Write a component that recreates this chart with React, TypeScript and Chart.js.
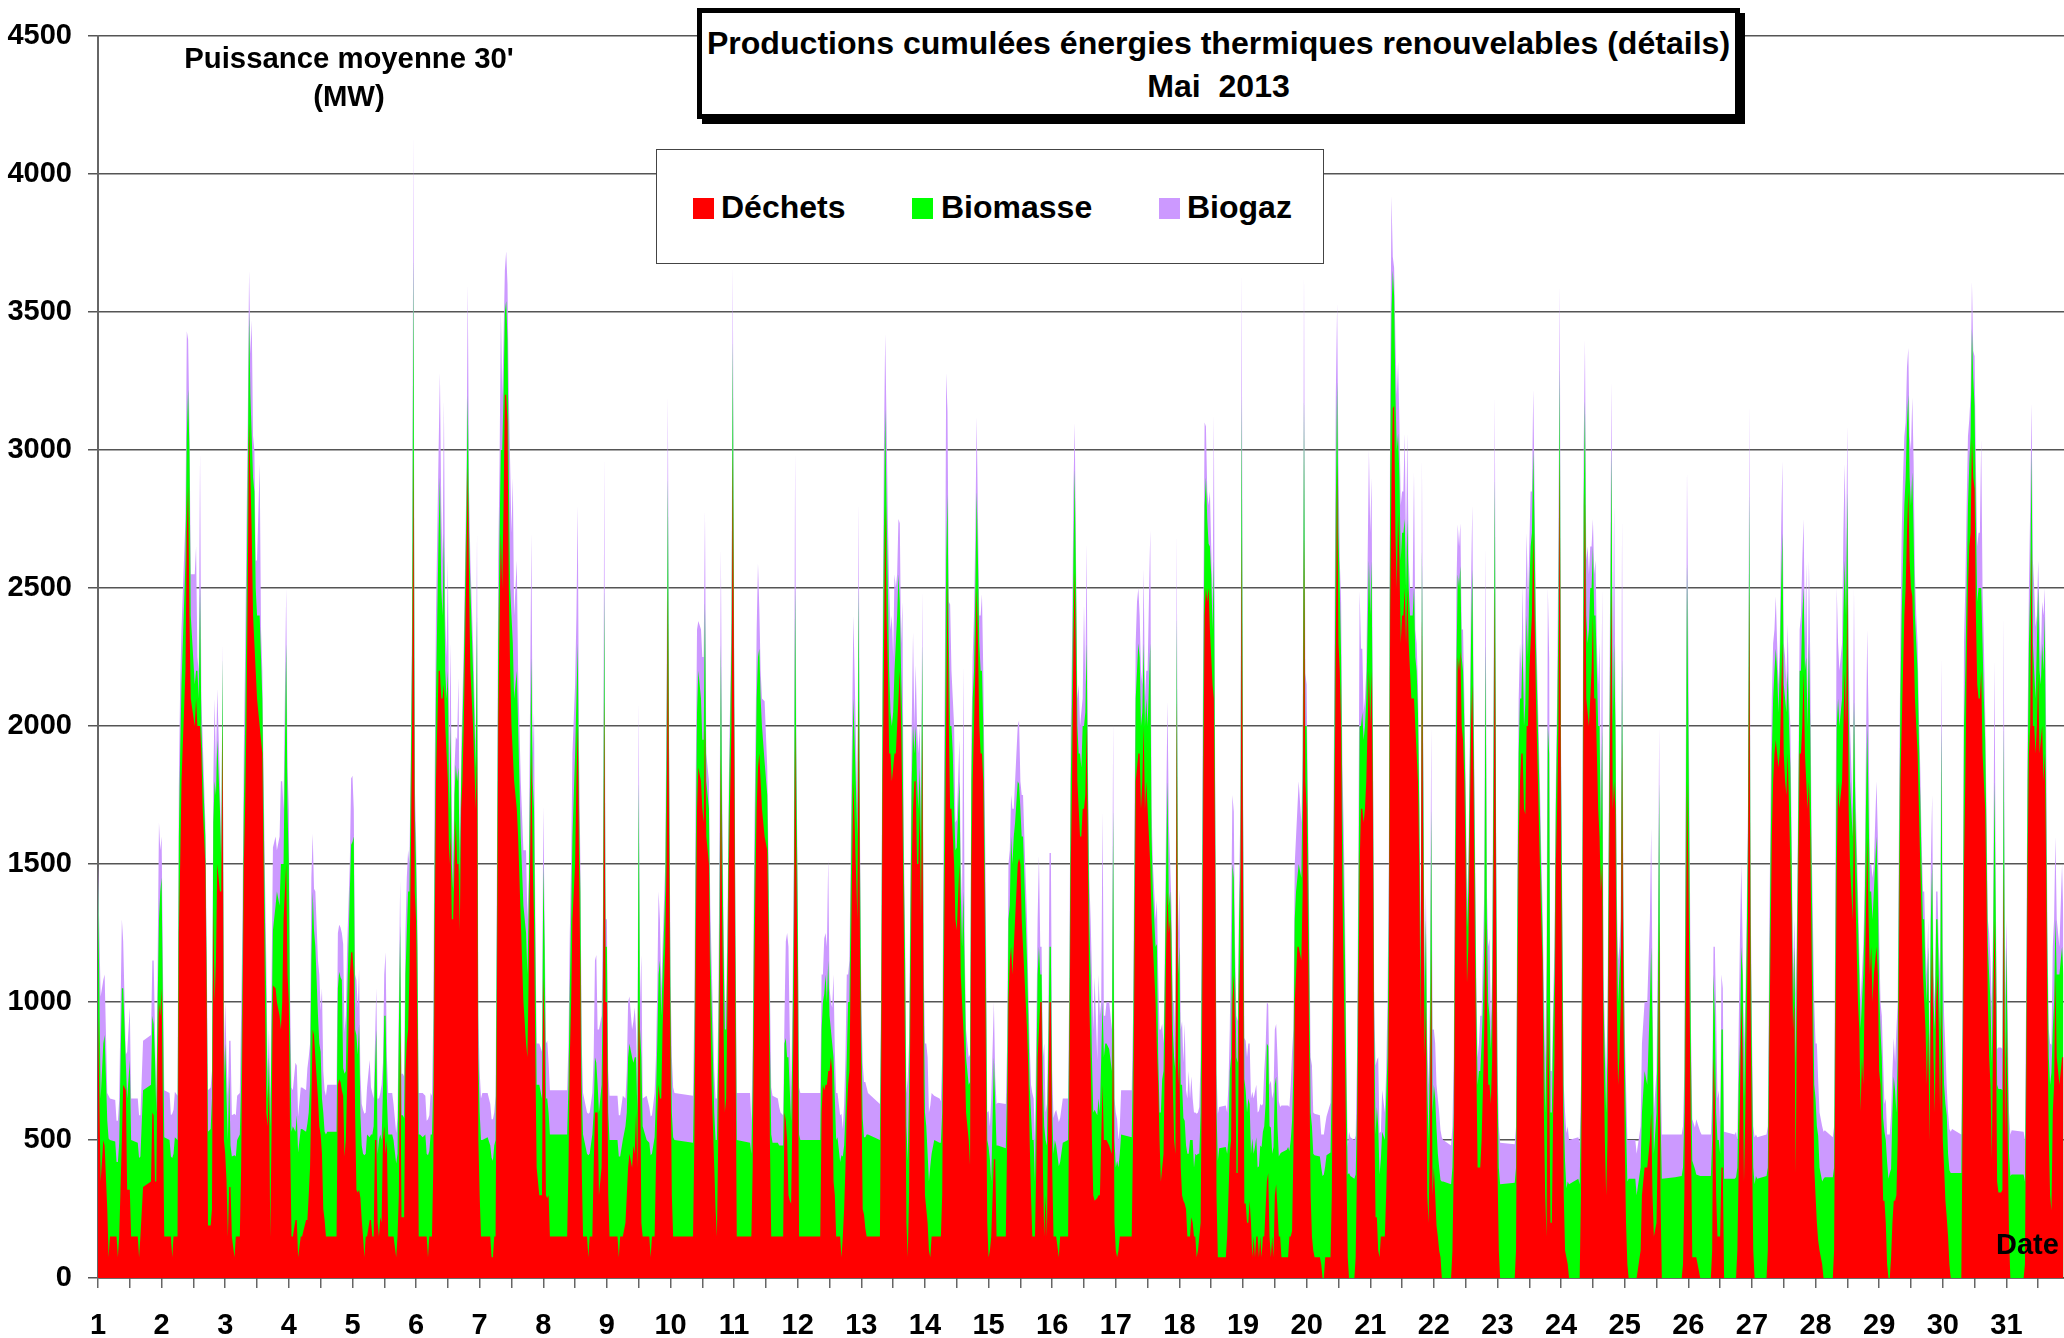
import React, { useEffect, useRef } from "react";
import { Chart, registerables } from "chart.js";

Chart.register(...registerables);

const titleLines = ["Productions cumulées énergies thermiques renouvelables (détails)", "Mai  2013"];
const unitLines = ["Puissance moyenne 30'", "(MW)"];
const seriesNames = ["Déchets", "Biomasse", "Biogaz"];
const seriesColors = ["#FF0000", "#00FF00", "#CC99FF"];
const dayLabels = Array.from({ length: 31 }, (_, i) => String(i + 1));
const yTicks = [0, 500, 1000, 1500, 2000, 2500, 3000, 3500, 4000, 4500];

// half-hour slot of each reading, one line per day of the month
const slots = [
[0,2,4,5,7,8,9,13,14,15,16,18,19,21,22,24,25,30,31,32,34,40,41,42,43,44,45,46,47],
[0,2,6,7,8,9,10,12,13,14,15,18,19,20,21,22,25,26,27,28,29,30,31,33,34,35,37,38,39,40,41,42,44,45,46,47],
[0,1,2,3,4,5,7,8,9,11,12,13,14,15,16,17,18,19,20,21,22,23,24,26,27,28,29,30,31,32,33,34,35,36,38,39,41,42,43,44,46,47],
[0,1,2,3,5,6,7,9,10,13,14,15,16,17,18,19,20,22,23,24,25,26,27,28,29,36,37,38,39,40,41,42,43,44,46,47],
[0,1,2,3,4,5,6,7,8,9,10,11,13,14,15,16,17,18,19,20,21,22,23,24,25,26,27,30,31,33,34,35,36,37,38,39,40,41,42,43,44,45,46,47],
[0,1,2,3,5,7,8,9,10,11,12,13,14,15,16,17,18,19,20,21,22,23,24,25,26,27,28,29,30,31,32,33,34,35,36,38,39,40,41,43,45,46,47],
[0,1,2,6,8,9,10,11,12,13,14,15,16,17,18,19,20,21,22,23,24,25,26,28,29,31,33,35,36,37,39,40,41,42,43,45,47],
[0,1,2,3,4,5,10,18,19,20,21,22,24,25,26,27,28,29,30,33,34,35,37,38,39,40,41,42,44,45,46,47],
[0,1,2,8,9,10,12,14,15,16,17,19,20,21,22,23,24,25,26,27,30,32,33,34,36,37,38,39,40,41,42,44,45,46,47],
[0,1,2,3,17,18,19,20,21,23,24,25,26,27,29,30,31,33,34,35,36,37,38,39,40,41,42,43,44,46,47],
[0,1,2,12,13,14,15,16,17,18,19,20,21,23,25,26,27,28,29,33,34,35,37,38,39,40,41,42,43,44,45,46,47],
[0,1,2,17,18,19,20,21,22,23,24,25,26,27,28,29,30,32,33,34,35,36,37,38,39,41,42,45,46,47],
[0,1,2,3,4,5,14,15,16,17,18,19,20,21,22,23,24,25,26,27,28,29,30,31,32,33,34,35,36,37,38,39,40,41,42,43,44,45,46,47],
[0,1,2,3,4,5,7,11,12,13,14,15,16,17,18,19,20,21,22,23,24,26,27,28,29,30,31,33,34,35,36,37,38,39,40,41,42,43,44,45,46,47],
[0,1,2,4,5,6,7,13,14,15,16,17,18,19,20,22,23,24,25,26,28,29,30,31,32,33,34,35,36,37,38,39,40,41,42,43,44,45,46,47],
[0,1,2,3,5,6,8,12,13,14,15,16,17,18,19,20,21,22,23,24,25,26,27,28,29,30,31,32,34,35,36,37,38,39,40,41,43,45,46,47],
[0,1,2,3,4,12,13,14,15,16,17,18,19,20,21,22,23,24,26,27,28,30,31,32,33,34,35,36,37,38,39,40,41,42,43,44,45,46,47],
[0,1,2,3,4,5,6,7,8,9,10,11,12,13,14,15,16,17,18,19,20,21,22,23,24,25,26,27,28,29,30,35,36,37,38,39,40,41,42,43,44,45,46,47],
[0,1,2,3,4,5,6,7,8,9,10,11,12,13,14,15,16,17,18,19,20,21,22,23,24,25,26,27,28,29,33,34,35,36,37,38,39,40,41,42,44,45,46,47],
[0,1,2,3,4,5,6,10,11,12,13,14,15,18,19,20,21,22,23,24,25,26,27,28,29,30,31,32,33,36,37,38,39,40,41,42,43,44,45,47],
[0,1,2,3,4,5,6,7,8,9,11,12,13,14,15,16,17,18,19,20,21,22,23,24,25,26,27,28,29,30,31,32,33,34,35,36,37,38,39,40,41,42,43,44,45,46,47],
[0,1,2,3,4,5,6,7,13,14,15,16,17,18,19,20,21,22,23,24,25,26,27,28,29,30,31,32,33,34,35,36,37,38,39,40,41,42,43,44,45,46,47],
[0,1,2,13,14,15,16,17,18,19,20,21,22,23,24,25,26,27,28,29,30,31,32,33,34,35,36,37,38,39,40,41,42,43,44,45,46,47],
[0,1,2,3,4,5,6,13,14,15,16,17,18,19,20,21,22,23,24,25,26,27,28,29,30,31,32,33,34,35,36,37,38,39,40,41,42,43,44,45,46,47],
[0,1,2,3,8,9,12,13,15,17,19,20,21,22,24,25,26,27,28,38,43,44,45,46,47],
[0,1,2,3,5,6,9,10,17,18,19,20,21,22,23,24,25,26,27,35,36,37,38,39,40,41,42,43,44,45,46,47],
[0,1,2,3,4,11,12,13,14,15,16,17,18,19,20,21,22,23,24,25,26,27,28,29,30,31,32,33,34,35,36,37,38,39,40,41,42,43,44,45,46,47],
[0,1,2,3,5,6,7,13,14,15,16,17,18,20,21,22,23,24,25,26,27,28,29,30,32,33,34,35,36,37,38,39,40,41,42,43,44,46,47],
[0,1,2,3,4,5,6,7,8,9,10,11,12,13,14,15,16,17,18,19,20,21,22,23,24,25,26,27,28,29,30,31,32,33,34,35,36,37,38,39,40,41,42,43,44,45,46,47],
[0,1,2,3,4,5,6,7,14,15,16,17,18,19,20,21,22,23,24,25,26,27,28,29,30,31,32,33,34,35,36,37,38,39,40,41,42,44,45,46,47],
[0,1,2,3,4,13,14,15,16,17,18,19,20,21,22,23,24,25,26,27,28,29,30,31,32,33,34,35,36,37,38,40,42,43],
];

const dechets = [
[950,350,500,480,250,75,150,150,150,75,150,500,700,680,320,320,150,150,75,150,330,350,600,590,350,350,800,1000,950],
[1050,150,150,150,75,150,150,150,1250,1500,1800,2200,2700,2870,2400,2100,2000,2100,2000,2000,2000,1900,1700,1500,1000,190,190,250,1350,1000,1150,1500,1400,1400,2000,500],
[450,350,150,330,330,150,75,150,150,150,400,900,1500,1700,2000,2500,3100,2900,2700,2400,2300,2200,2100,2000,1950,1900,1500,1000,600,550,700,150,550,1060,1050,1000,950,900,1000,1300,1500,1100],
[1000,500,150,150,210,210,75,150,150,210,210,300,400,650,900,880,800,650,550,520,450,250,210,150,150,150,700,720,710,680,660,440,500,700,1100,1180],
[1180,1100,600,320,310,320,290,210,150,75,150,150,210,210,150,150,500,500,200,150,220,200,500,550,450,500,150,150,150,75,150,300,900,220,220,220,750,850,900,1100,1500,2000,3000,1400],
[1300,900,150,150,150,150,150,75,150,150,150,400,1200,1800,2000,2200,2200,2100,2100,2150,2000,1900,1800,1500,1600,1300,1300,1500,1660,1500,1500,1260,1700,1800,2000,2600,2940,2500,2200,2000,1700,1900,500],
[300,150,150,150,150,75,75,150,150,1000,2000,2400,2700,2500,2800,3200,3200,3100,2500,2200,2000,1900,1800,1700,1600,1300,1000,850,800,1100,1900,1500,1300,800,400,300,300],
[1090,900,300,290,300,150,150,150,400,800,1000,1300,1500,1800,2000,1500,1100,400,150,150,75,150,150,400,600,600,600,300,400,800,2100,1000],
[1000,300,150,150,75,150,150,200,300,400,450,400,480,450,600,400,1000,800,200,150,150,150,75,150,150,400,600,700,650,650,900,1200,1500,2500,1500],
[800,300,150,150,150,500,1200,1700,1850,1800,1700,1650,2000,1600,1500,1000,700,400,250,150,500,1000,1900,1300,900,600,650,1000,1500,2000,3000],
[2000,900,150,150,150,400,1000,1400,1700,1850,1900,1800,1700,1600,1550,1200,500,150,150,150,150,150,150,600,570,500,300,280,270,600,1000,2000,1500],
[1000,150,150,150,600,700,680,700,700,750,750,800,750,350,300,150,150,150,75,150,250,400,600,700,750,1500,1800,1300,2100,1200],
[700,250,230,180,150,150,150,800,1800,2200,2800,2400,2200,1900,1900,1800,1850,1900,1900,2000,2100,2200,2000,1700,1300,800,200,75,300,1000,1500,1700,1800,1800,1500,1500,1700,1300,2000,700],
[300,250,200,100,75,150,150,150,150,300,1000,1500,2000,2540,2000,1700,1700,1600,1500,1300,1260,1500,1100,1000,900,800,600,500,410,1500,1800,2000,2200,2500,2300,2000,1900,1900,1800,1400,800,200],
[75,100,150,430,430,150,150,150,500,1000,1150,1200,1100,1200,1300,1500,1520,1500,1300,1200,1000,900,750,500,300,150,150,150,400,800,900,1000,1000,400,150,300,150,600,1000,1000],
[400,150,150,150,75,150,150,150,800,1500,1800,2300,2560,2200,1800,1700,1600,1600,1700,1700,1750,2000,1500,1000,800,500,300,280,290,300,300,500,700,500,500,500,480,450,1000,200],
[100,75,100,150,150,150,500,1100,1800,1850,1900,1900,1700,1800,2000,1700,1800,1700,1500,1300,1200,1000,830,700,500,350,400,450,800,1200,1400,1250,1300,1050,700,500,450,2100,700],
[800,400,300,280,270,250,150,150,150,220,200,150,150,75,100,150,200,800,1800,2400,2500,2450,2500,2350,2250,2150,2100,1500,300,75,75,75,150,300,450,500,1000,1100,900,380,380,1000,1200,2700],
[1400,270,270,200,200,280,200,75,150,75,150,150,75,150,75,150,150,250,350,380,150,75,150,75,300,340,250,150,150,75,75,75,150,150,170,450,1000,1100,1200,1200,1150,1400,2700,1800],
[1700,1300,800,300,150,100,75,75,50,0,0,75,75,75,300,1000,1700,2300,2950,2300,2200,2000,1400,1075,800,400,75,0,0,0,75,400,1000,1500,1700,1700,1650,1700,1800,2200],
[2000,2200,1700,600,220,220,100,75,150,150,150,300,500,1000,2400,2900,3150,3160,2700,2500,2770,2600,2300,2400,2400,2500,2300,2500,2300,2200,2100,2100,2100,2000,1900,1800,1500,900,2390,1500,800,1000,300,200,500,1200,300],
[400,300,190,150,100,75,0,0,0,100,400,1200,1800,2250,2200,2270,2000,1950,1800,1500,1070,1200,1600,2000,2150,1800,1200,800,400,400,400,500,680,900,1300,1000,700,700,630,800,1500,2500,1200],
[400,100,0,0,100,1000,1600,1800,1900,1900,1700,1680,2000,2000,2200,2300,2400,2700,2400,2100,1900,1700,1500,1300,1150,600,300,150,1000,700,200,200,600,800,1500,1700,2000,2980],
[1500,900,300,100,75,50,0,0,0,300,1000,2300,2850,2100,2050,2000,2100,2200,2400,2100,2100,1900,1700,1600,1400,1500,800,500,300,500,1300,2000,2500,1700,1800,1700,1000,700,800,1000,1950,1000],
[500,200,50,0,0,0,100,300,400,400,500,600,300,150,200,500,1300,300,0,0,0,50,300,1000,1800],
[1500,1000,500,75,75,75,0,0,0,100,800,650,300,150,150,150,400,400,0,0,0,100,400,650,1000,800,350,600,900,1300,2500,1000],
[500,100,0,0,0,0,100,800,1200,1600,1800,1900,1950,1900,1850,1900,2100,2300,1900,1800,1750,1900,1700,1500,1300,900,1000,380,1000,1500,1900,1900,2000,2200,1900,1800,1700,1800,1600,1200,800,400],
[300,200,135,100,50,0,0,0,100,900,1500,1800,1700,1800,2000,2200,2000,2500,1700,1500,1400,1300,1700,1400,1000,900,605,800,700,1000,1300,1600,1300,1100,1200,1000,1100,1200,1100],
[750,700,500,280,280,200,50,0,0,75,200,280,280,300,500,1200,1800,2000,2200,2400,2500,2700,2850,2600,2500,2470,2300,2100,2000,1900,1700,1500,1300,1100,1000,900,700,900,500,1000,1200,800,600,1000,1100,900,600,1000],
[500,400,280,220,150,50,0,0,0,600,1500,1800,2200,2500,2650,2700,3040,2900,2860,2400,2150,2100,2100,2200,1900,1800,1700,1400,1000,800,700,430,900,1300,1000,350,310,310,320,1500,500],
[900,500,150,0,0,0,50,700,1500,1900,2000,2650,2000,2000,1900,2000,2180,1900,1950,2000,1800,1900,1500,900,500,300,245,600,700,1100,800,700,800,800],
];

const biomasse = [
[500,300,350,400,320,430,350,345,270,345,340,550,350,100,330,470,350,340,360,290,350,350,350,330,450,250,200,300,450],
[400,360,350,290,360,300,360,350,350,400,350,400,350,350,600,300,150,100,200,100,500,100,150,100,100,340,350,400,300,800,600,450,300,100,250,200],
[400,300,350,400,150,290,370,290,350,370,300,200,200,300,400,400,400,300,350,500,550,300,300,400,300,200,200,300,400,100,100,400,350,200,300,400,400,600,500,200,800,600],
[500,350,380,400,320,380,380,390,390,320,350,300,300,500,500,380,400,300,300,300,200,350,320,370,380,380,350,390,380,400,100,300,250,300,300,390],
[400,500,300,560,500,600,300,270,300,370,300,370,300,310,370,400,250,400,250,350,300,300,180,400,500,150,370,370,350,340,300,600,380,370,370,360,350,400,500,300,300,300,700,300],
[200,300,370,370,360,370,300,370,310,370,370,300,300,300,400,500,700,400,300,550,200,200,400,200,400,200,100,250,200,300,350,200,100,200,200,200,260,200,300,200,150,500,300],
[300,350,350,360,330,360,350,330,350,300,300,300,300,500,400,300,340,300,400,300,400,400,300,500,400,300,350,400,300,250,350,300,400,400,300,400,350],
[410,300,350,360,300,370,370,370,300,250,300,300,400,300,300,200,300,300,370,300,370,300,370,200,200,180,100,300,300,300,400,200],
[200,300,350,350,365,290,350,350,300,400,400,400,300,350,200,200,800,100,600,400,350,340,370,300,360,250,250,400,500,300,200,200,400,400,300],
[200,300,360,350,340,300,300,350,350,300,250,300,450,200,200,200,300,200,250,350,300,300,400,300,300,300,250,200,200,300,400],
[200,300,350,340,300,300,300,300,400,400,380,300,300,270,200,200,350,370,340,340,330,330,330,250,300,300,500,400,300,250,300,500,300],
[300,370,350,350,300,300,350,400,300,400,200,100,100,450,350,350,360,270,370,290,230,200,200,300,250,300,300,300,400,300],
[200,330,280,330,370,370,350,200,300,500,350,400,300,300,150,200,200,300,400,400,450,250,200,300,200,350,350,350,390,300,300,300,100,200,300,200,150,300,300,350],
[300,300,250,250,330,300,350,340,340,300,300,400,600,300,300,300,300,300,200,250,300,300,300,200,500,300,200,200,300,300,300,200,300,350,300,300,300,300,200,200,300,300],
[400,330,200,370,200,330,330,320,200,300,200,400,400,400,350,300,270,200,300,400,300,250,200,200,300,350,350,200,300,300,300,100,100,300,400,200,330,200,200,200],
[200,300,350,330,330,270,340,350,200,300,300,300,370,300,200,200,300,250,300,300,300,300,250,300,300,300,300,330,300,350,300,300,300,300,350,350,350,300,700,300],
[300,350,300,300,370,360,300,300,300,350,400,350,300,250,300,300,300,300,800,300,200,200,380,100,100,250,320,300,300,300,400,100,100,200,200,300,300,300,400],
[400,300,400,300,300,230,300,300,350,280,300,250,300,370,350,300,400,400,300,400,400,300,160,300,300,200,500,200,300,350,395,400,300,200,300,300,500,350,200,420,400,300,300,500],
[300,450,410,400,450,350,250,430,300,400,360,250,330,330,400,380,400,380,500,460,400,470,300,400,400,390,300,290,300,380,390,400,310,350,400,300,300,300,250,300,300,400,500,200],
[300,300,300,300,400,350,370,365,350,370,375,330,370,380,400,300,300,500,300,400,300,250,300,350,350,300,300,380,370,360,300,200,300,500,300,350,300,300,300,400],
[400,400,200,300,300,400,450,300,280,380,350,350,300,300,500,600,500,400,500,500,290,300,300,300,300,250,200,250,200,200,300,300,400,250,300,250,200,200,250,300,200,300,400,300,300,500,300],
[300,350,350,300,300,280,350,350,340,300,200,300,400,300,300,310,250,250,200,200,200,200,200,300,420,200,300,200,300,350,350,350,300,300,1000,300,300,250,200,200,400,400,300],
[300,300,340,345,300,300,300,300,200,400,300,400,400,250,300,350,300,300,300,200,200,200,200,150,100,300,300,700,1000,1200,400,400,300,300,200,300,400,320],
[300,300,300,320,250,300,340,360,340,300,300,500,330,300,250,350,400,300,250,300,300,300,300,400,200,500,200,300,300,300,300,300,500,300,500,300,300,300,300,200,300,300],
[300,350,300,360,360,300,300,300,350,300,500,600,600,300,400,500,500,300,360,365,370,350,300,500,800],
[500,400,300,350,320,300,370,370,370,400,300,300,300,350,350,300,500,500,360,360,365,300,300,200,200,300,300,300,300,300,350,300],
[300,300,340,370,360,370,300,200,300,300,300,300,330,300,200,300,400,400,250,300,300,300,300,350,200,100,200,400,200,200,300,300,400,300,300,450,300,500,400,300,300,300],
[350,350,380,300,300,360,365,365,300,300,500,300,300,300,400,400,400,350,350,300,300,300,400,300,300,200,300,200,400,300,400,400,400,300,200,300,300,400,300],
[300,200,300,300,250,300,370,360,380,320,400,450,400,300,300,300,300,400,400,400,400,400,350,300,300,450,400,300,300,300,250,250,200,200,300,200,300,300,250,300,300,200,300,300,200,200,300,1000],
[400,300,350,370,300,340,380,380,380,300,500,400,300,300,300,350,400,360,300,350,300,400,400,300,400,300,250,200,200,300,300,350,300,500,300,350,375,375,360,500,300],
[300,300,300,370,375,375,300,200,300,400,500,350,300,200,200,300,320,300,200,300,400,500,200,250,300,400,500,300,300,200,300,400,400,300],
];

const biogaz = [
[50,370,230,220,100,155,150,150,150,150,155,250,170,30,170,190,150,160,155,150,180,180,200,230,100,50,150,350,150],
[150,170,170,150,160,160,165,160,180,250,200,150,380,180,100,150,400,450,50,100,490,100,100,50,100,150,150,100,150,300,100,185,100,50,50,80],
[150,150,160,130,380,150,150,150,160,150,250,200,200,250,300,200,150,150,420,150,150,100,200,550,100,100,100,150,150,100,100,100,200,300,250,150,250,300,300,200,200,150],
[200,150,160,130,250,180,130,150,150,150,200,200,150,300,210,150,200,200,250,150,400,150,150,140,170,170,200,170,180,170,450,150,200,200,100,240],
[240,100,200,200,170,200,150,150,160,150,150,170,280,170,150,100,100,150,200,150,150,200,100,150,230,150,150,150,130,110,130,100,160,150,150,150,150,200,150,100,100,100,450,100],
[100,100,150,150,160,140,120,130,130,150,140,250,300,300,300,300,380,300,200,480,200,150,400,200,300,200,100,100,100,150,325,100,100,100,100,100,400,150,100,100,100,300,150],
[150,150,170,160,150,140,150,120,160,200,300,250,500,200,200,150,180,200,300,450,300,600,300,400,200,200,200,300,200,100,450,100,350,100,150,150,170],
[210,100,200,210,180,160,160,160,150,200,200,300,250,300,500,200,100,150,150,150,150,150,150,200,350,390,200,300,250,200,480,100],
[100,150,160,160,150,150,160,100,150,200,170,100,150,180,100,100,290,100,370,100,160,130,140,140,160,150,200,300,150,100,100,100,200,300,100],
[100,200,180,170,170,200,300,300,180,250,300,300,330,100,100,150,150,150,150,150,150,300,345,150,100,100,100,100,100,100,270],
[100,100,170,180,120,150,200,200,250,340,145,100,100,220,100,100,200,170,170,160,140,120,110,100,350,450,400,200,100,150,200,495,100],
[100,170,170,170,200,100,200,150,200,370,100,100,130,300,170,170,160,170,150,100,150,200,300,100,150,200,300,100,310,100],
[100,200,200,200,170,150,130,100,200,300,270,300,250,300,300,400,200,350,200,150,200,285,100,450,100,100,120,300,170,150,200,340,100,220,200,200,150,100,190,100],
[250,300,350,250,220,220,160,160,150,200,300,300,680,300,150,440,200,200,300,100,100,150,100,150,820,100,100,100,100,150,150,200,200,270,150,100,200,277,200,200,200,100],
[130,120,300,200,100,150,155,160,150,200,200,150,200,100,150,200,230,100,150,150,150,150,100,150,100,170,150,150,200,200,330,100,100,100,300,100,150,100,340,340],
[150,130,100,130,160,160,160,150,150,200,200,250,170,100,100,250,100,200,100,440,100,360,100,150,200,300,300,480,200,450,350,200,690,150,100,150,170,150,320,150],
[200,150,100,100,160,170,150,200,200,250,200,150,200,100,270,100,100,200,410,100,100,100,160,300,300,300,200,100,100,200,290,300,100,100,100,200,100,300,150],
[210,200,230,200,350,200,200,300,150,230,150,200,150,150,150,170,200,300,300,300,185,100,140,200,100,100,530,100,150,170,150,150,150,200,150,500,250,240,100,150,150,100,200,450],
[100,150,180,200,200,220,200,170,200,200,190,200,200,150,150,100,200,200,150,150,150,170,200,200,200,190,250,200,170,170,160,150,160,200,250,150,200,200,250,300,200,100,450,190],
[150,100,200,200,220,150,150,150,120,150,145,150,140,180,250,200,300,400,280,250,100,200,150,200,150,100,100,150,140,140,140,200,200,490,280,230,100,100,100,400],
[300,300,100,100,250,170,250,150,100,150,100,100,200,200,300,420,50,100,200,200,260,200,200,150,150,310,150,310,100,100,100,100,420,100,100,100,100,100,330,100,100,100,150,200,200,300,300],
[200,200,160,200,200,180,160,150,140,150,200,200,300,180,150,155,100,150,100,100,100,100,100,200,230,100,100,100,100,100,200,100,200,200,350,100,200,280,100,100,200,300,100],
[100,150,150,140,150,200,200,200,100,210,100,300,300,200,150,200,150,220,150,100,100,100,100,100,100,150,200,300,500,350,150,150,100,100,100,100,300,300],
[100,100,100,180,200,200,160,150,150,100,200,200,220,200,350,200,150,150,100,150,200,100,150,300,100,500,100,100,150,150,150,200,250,200,500,100,100,150,100,100,500,100],
[100,150,150,140,140,150,150,250,250,300,300,430,150,150,150,200,200,200,160,155,150,150,150,300,330],
[290,200,100,150,150,200,160,150,150,150,100,250,350,150,180,100,200,150,170,160,165,100,200,400,300,100,200,100,100,100,320,100],
[100,150,170,150,150,150,150,200,200,200,200,150,190,100,100,100,200,260,150,150,100,170,100,150,100,100,100,250,100,100,150,200,200,250,100,340,100,300,250,100,200,300],
[200,300,200,200,200,170,170,145,150,300,500,200,200,200,300,350,200,240,200,200,150,100,400,100,100,100,100,100,100,100,200,350,320,100,100,150,100,200,200],
[200,100,150,200,100,150,100,160,140,200,150,140,100,300,200,200,200,300,300,250,200,200,170,150,200,270,260,150,100,100,100,100,100,100,100,100,100,100,100,200,250,100,100,100,100,100,200,250],
[300,250,200,100,150,150,150,160,140,200,300,300,300,250,160,150,170,100,180,200,200,200,200,540,200,200,100,100,100,150,150,200,100,440,100,130,150,150,150,400,200],
[100,150,150,150,160,155,150,200,200,200,300,170,300,300,260,100,100,200,100,150,200,100,300,100,100,150,100,300,300,300,200,100,300,200,200,100],
];

function buildPoints(values: number[][]) {
  const points: { x: number; y: number }[] = [];
  slots.forEach((daySlots, day) => {
    daySlots.forEach((slot, i) => {
      const row = values[day] || [];
      const v = row[i] !== undefined ? row[i] : row[row.length - 1] || 0;
      points.push({ x: day * 48 + slot, y: v });
    });
  });
  return points;
}

const boldFont = '"Liberation Sans", Arial, sans-serif';

export default function App() {
  const ref = useRef<HTMLCanvasElement>(null);
  useEffect(() => {
    if (!ref.current) return;
    const sets = [dechets, biomasse, biogaz].map((values, i) => ({
      label: seriesNames[i],
      data: buildPoints(values),
      backgroundColor: seriesColors[i],
      borderWidth: 0,
      pointRadius: 0,
      tension: 0,
      fill: "origin",
    }));
    const chart = new Chart(ref.current, {
      type: "line",
      data: { datasets: sets as any },
      options: {
        animation: false,
        responsive: false,
        devicePixelRatio: 1,
        events: [],
        layout: { padding: { top: 36, right: 2, left: 0, bottom: 0 } },
        plugins: { legend: { display: false }, tooltip: { enabled: false } },
        scales: {
          x: {
            type: "linear",
            min: 0,
            max: 1488,
            afterFit: (s: any) => { s.height = 60; },
            afterBuildTicks: (s: any) => {
              const t = [];
              for (let v = 0; v < 1488; v += 24) t.push({ value: v });
              s.ticks = t;
            },
            ticks: {
              autoSkip: false,
              maxRotation: 0,
              padding: 21,
              color: "#000",
              font: { family: boldFont, size: 29, weight: "bold" },
              callback: (v: any) => (Number(v) % 48 === 0 ? dayLabels[Number(v) / 48] || "" : ""),
            },
            grid: { drawOnChartArea: false, drawTicks: true, tickLength: 10, color: "#666", lineWidth: 1.5 },
            border: { color: "#333", width: 1.5 },
          },
          y: {
            stacked: true,
            min: 0,
            max: 4500,
            afterFit: (s: any) => { s.width = 98; },
            afterBuildTicks: (s: any) => { s.ticks = yTicks.map((value) => ({ value })); },
            ticks: {
              padding: 16,
              color: "#000",
              font: { family: boldFont, size: 29, weight: "bold" },
              callback: (v: any) => String(v),
            },
            grid: { drawTicks: true, tickLength: 10, color: "#555", lineWidth: 1.5 },
            border: { color: "#666", width: 2 },
          },
        },
      },
    } as any);
    return () => chart.destroy();
  }, []);

  const text: React.CSSProperties = {
    position: "absolute",
    fontFamily: boldFont,
    fontWeight: "bold",
    color: "#000",
    whiteSpace: "pre",
    lineHeight: 1,
  };
  const legendX = [693, 912, 1159];
  const legendTextX = [721, 941, 1187];

  return (
    <div style={{ position: "absolute", left: 0, top: 0, width: 2064, height: 1338, overflow: "hidden", background: "#fff" }}>
      <canvas ref={ref} width={2072} height={1338} style={{ position: "absolute", left: 0, top: 0 }} />
      <div style={{ ...text, left: 149, width: 400, textAlign: "center", top: 43, fontSize: 29.3 }}>{unitLines[0]}</div>
      <div style={{ ...text, left: 149, width: 400, textAlign: "center", top: 81, fontSize: 29.3 }}>{unitLines[1]}</div>
      <div style={{ position: "absolute", left: 702, top: 13, width: 1043, height: 111, background: "#000" }} />
      <div style={{ position: "absolute", left: 697, top: 8, width: 1043, height: 111, boxSizing: "border-box", border: "5px solid #000", background: "#fff" }} />
      <div style={{ ...text, left: 697, width: 1043, textAlign: "center", top: 27, fontSize: 32.1 }}>{titleLines[0]}</div>
      <div style={{ ...text, left: 697, width: 1043, textAlign: "center", top: 70, fontSize: 32.1 }}>{titleLines[1]}</div>
      <div style={{ position: "absolute", left: 656, top: 149, width: 668, height: 115, boxSizing: "border-box", border: "1.5px solid #444", background: "#fff" }} />
      {seriesNames.map((name, i) => (
        <React.Fragment key={name}>
          <div style={{ position: "absolute", left: legendX[i], top: 198, width: 21, height: 21, background: seriesColors[i] }} />
          <div style={{ ...text, left: legendTextX[i], top: 191, fontSize: 32 }}>{name}</div>
        </React.Fragment>
      ))}
      <div style={{ ...text, left: 1996, top: 1230, fontSize: 29 }}>Date</div>
    </div>
  );
}
